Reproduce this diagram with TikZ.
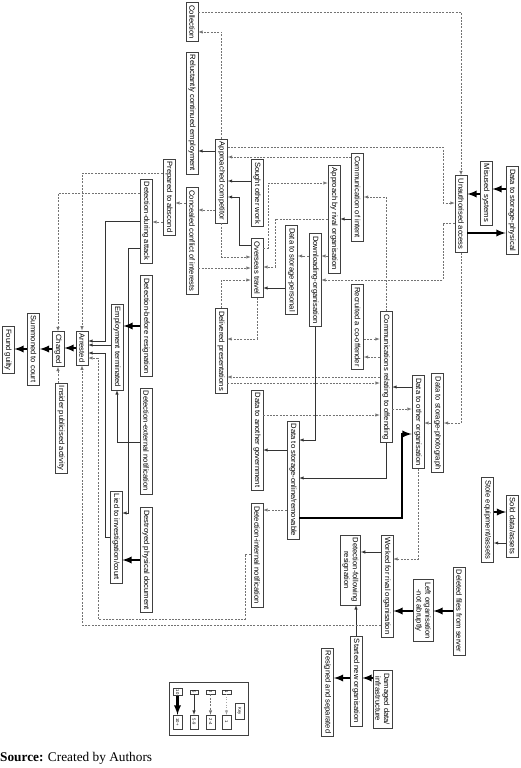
\documentclass[tikz,border=0pt]{standalone}
\usepackage{fontspec}
\setmainfont{Liberation Sans}
\newfontfamily\srcfont{Liberation Serif}
\usepackage{tikz}
\usetikzlibrary{positioning}

\tikzset{
  stagebox/.style={draw=black!75, line width=0.55pt, fill=white, rotate=-90,
    font=\fontsize{7.6}{8.6}\selectfont, align=center,
    inner xsep=2.8pt, inner ysep=2.2pt, minimum height=12pt},
  keycell/.style={draw=black!75, line width=0.4pt, fill=white, rotate=-90,
    font=\fontsize{4.2}{5}\selectfont, inner sep=1pt, minimum height=8.5pt},
  sol/.style={draw=black!80, line width=0.55pt, -latex},
  dsh/.style={draw=black!55, line width=0.55pt, dash pattern=on 2pt off 1.3pt, -latex},
  faint/.style={draw=black!35, line width=0.55pt, dotted, -latex},
  thk/.style={draw=black, line width=2.2pt, -latex},
}

\begin{document}
\begin{tikzpicture}[x=1pt, y=-1pt]
\useasboundingbox (0,0) rectangle (520,768);

% stages, left half
\node[stagebox] (collection) at (192,22) {Collection};
\node[stagebox] (reluct) at (192,113) {Reluctantly continued employment};
\node[stagebox] (appcomp) at (221.5,181) {Approached competitor};
\node[stagebox] (sought) at (257,193) {Sought other work};
\node[stagebox] (abscond) at (169,197) {Prepared to abscond};
\node[stagebox] (conceal) at (192,241) {Concealed conflict of interests};
\node[stagebox] (detduring) at (146,221) {Detection-during attack};
\node[stagebox] (detbefore) at (146,326) {Detection-before resignation};
\node[stagebox] (empterm) at (117,347) {Employment terminated};
\node[stagebox] (arrested) at (82,348) {Arrested};
\node[stagebox] (charged) at (58,349) {Charged};
\node[stagebox] (summoned) at (33.5,349) {Summoned to court};
\node[stagebox] (guilty) at (8,350) {Found guilty};
\node[stagebox] (insider) at (61,428) {Insider publicised activity};
\node[stagebox] (detext) at (146,441) {Detection-external notification};
\node[stagebox] (lied) at (116,537) {Lied to investigation/court};
\node[stagebox] (destroyed) at (146,560) {Destroyed physical document};
\node[stagebox] (overseas) at (257,268) {Overseas travel};
\node[stagebox] (delivered) at (221,351) {Delivered presentations};
\node[stagebox] (datagov) at (257,440) {Data to another government};
\node[stagebox] (detint) at (257,555) {Detection-internal notification};

% stages, right half
\node[stagebox] (commintent) at (357.5,197) {Communication of intent};
\node[stagebox] (rival) at (334,219) {Approach by rival organisation};
\node[stagebox] (storpers) at (291.5,270) {Data to storage-personal};
\node[stagebox] (download) at (315,280) {Downloading-organisation};
\node[stagebox] (recruited) at (357.5,327) {Recruited a co-offender};
\node[stagebox] (commoff) at (386,377) {Communications relating to offending};
\node[stagebox] (dataorg) at (418,422) {Data to other organisation};
\node[stagebox] (storphoto) at (437.5,423) {Data to storage-photograph};
\node[stagebox] (storonline) at (293,480) {Data to storage-online/removable};
\node[stagebox] (unauth) at (461,214) {Unauthorised access};
\node[stagebox] (misused) at (486,193) {Misused systems};
\node[stagebox] (storphys) at (512,210) {Data to storage-physical};
\node[stagebox] (stole) at (487.5,520) {Stole equipment/assets};
\node[stagebox] (sold) at (512.5,526) {Sold data/assets};
\node[stagebox] (workedrival) at (387,586) {Worked for rival organisation};
\node[stagebox] (detfollow) at (350.5,570) {Detection-following\\resignation};
\node[stagebox] (deleted) at (459,611) {Deleted files from server};
\node[stagebox] (leftorg) at (423,610.5) {Left organisation\\-not abruptly};
\node[stagebox] (startedorg) at (356,681) {Started new organisation};
\node[stagebox] (damaged) at (382.5,699) {Damaged data/\\infrastructure};
\node[stagebox] (resigned) at (327.5,692) {Resigned and separated};

% links
\draw[dsh] (collection.north |- 0,12) -| (unauth.west);
\draw[dsh] (appcomp.west) |- (collection.north |- 0,32);
\draw[sol] (appcomp.south |- 0,151) -- (reluct.north |- 0,151);
\draw[dsh] (appcomp.north |- 0,147) -- (443,147) -- (443,203) -- (unauth.south |- 0,203);
\draw[dsh] (commintent.south |- 0,157) -- (appcomp.north |- 0,157);
\draw[sol] (sought.south |- 0,181) -- (appcomp.north |- 0,181);
\draw[sol] (overseas.south |- 0,245) -- (239,245) -- (239,197) -- (appcomp.north |- 0,197);
\draw[dsh] (appcomp.south |- 0,210) -- (conceal.north |- 0,210);
\draw[dsh] (appcomp.east) |- (overseas.south |- 0,257);
\draw[dsh] (conceal.north |- 0,268) -- (overseas.south |- 0,268);
\draw[dsh] (delivered.west) |- (overseas.south |- 0,280);
\draw[dsh] (overseas.north |- 0,248) -- (268,248) -- (268,183) -- (rival.south |- 0,183);
\draw[dsh] (rival.south |- 0,219) -- (275,219) -- (275,267) -- (overseas.north |- 0,267);
\draw[sol] (commintent.south |- 0,219) -- (rival.north |- 0,219);
\draw[dsh] (rival.south |- 0,256) -- (download.north |- 0,256);
\draw[dsh] (download.south |- 0,256) -- (storpers.north |- 0,256);
\draw[sol] (storpers.south |- 0,288) -- (overseas.north |- 0,288);
\draw[dsh] (unauth.south |- 0,223) -- (443,223) -- (443,280) -- (download.north |- 0,280);
\draw[dsh] (commoff.west) |- (commintent.north |- 0,197);
\draw[dsh] (recruited.north |- 0,339) -- (commoff.south |- 0,339);
\draw[dsh] (commoff.south |- 0,357) -- (recruited.north |- 0,357);
\draw[dsh] (commoff.south |- 0,377) -- (delivered.north |- 0,377);
\draw[dsh] (delivered.north |- 0,383) -- (commoff.south |- 0,383);
\draw[dsh] (overseas.east) |- (delivered.north |- 0,339);
\draw[dsh] (datagov.north |- 0,415) -- (commoff.south |- 0,415);
\draw[sol] (dataorg.south |- 0,387) -- (commoff.north |- 0,387);
\draw[dsh] (commoff.north |- 0,409) -- (dataorg.south |- 0,409);
\draw[dsh] (storphoto.south |- 0,423) -- (dataorg.north |- 0,423);
\draw[dsh] (unauth.east) |- (storphoto.north |- 0,423);
\draw[sol] (download.east) |- (storonline.north |- 0,440);
\draw[sol] (storonline.south |- 0,450) -- (datagov.north |- 0,450);
\draw[sol] (commoff.east) |- (storonline.north |- 0,478);
\draw[thk] (storonline.north |- 0,518) -- (402,518) -- (402,434) -- (dataorg.south |- 0,434);
\draw[dsh] (storonline.south |- 0,510) -- (detint.north |- 0,510);
\draw[dsh] (dataorg.east) |- (workedrival.north |- 0,559);
\draw[sol] (workedrival.south |- 0,552) -- (detfollow.north |- 0,552);
\draw[thk] (leftorg.south |- 0,611) -- (workedrival.north |- 0,611);
\draw[thk] (deleted.south |- 0,611) -- (leftorg.north |- 0,611);
\draw[sol] (startedorg.west) -- (startedorg.west |- detfollow.east);
\draw[thk] (damaged.south |- 0,678) -- (startedorg.north |- 0,678);
\draw[thk] (startedorg.south |- 0,678) -- (resigned.north |- 0,678);
\draw[dsh] (workedrival.south |- 0,625) -| (arrested.east);
\draw[dsh] (detint.south |- 0,554) -- (245,554) -- (245,619) -- (98,619) -- (98,358) -- (arrested.north |- 0,358);
\draw[sol] (detduring.south |- 0,221) -- (105,221) -- (105,341) -- (arrested.north |- 0,341);
\draw[sol] (empterm.south |- 0,345) -- (arrested.north |- 0,345);
\draw[sol] (lied.south |- 0,537) -- (105,537) -- (105,353) -- (arrested.north |- 0,353);
\draw[sol] (detduring.south |- 0,248) -- (128,248) -- (128,513) -- (lied.north |- 0,513);
\draw[thk] (detbefore.south |- 0,326) -- (empterm.north |- 0,326);
\draw[sol] (detext.south |- 0,442) -| (empterm.east);
\draw[thk] (destroyed.south |- 0,560) -- (lied.north |- 0,560);
\draw[dsh] (abscond.south |- 0,173) -| (arrested.west);
\draw[dsh] (detduring.south |- 0,193) -| (charged.west);
\draw[dsh] (conceal.south |- 0,203) -- (abscond.north |- 0,203);
\draw[dsh] (abscond.south |- 0,222) -- (detduring.north |- 0,222);
\draw[dsh] (charged.east |- insider.west) -- (charged.east);
\draw[thk] (arrested.south) -- (arrested.south -| charged.north);
\draw[thk] (charged.south) -- (charged.south -| summoned.north);
\draw[thk] (summoned.south) -- (summoned.south -| guilty.north);
\draw[thk] (misused.south |- 0,194) -- (unauth.north |- 0,194);
\draw[thk] (storphys.south |- 0,189) -- (misused.north |- 0,189);
\draw[thk] (unauth.north |- 0,233) -- (storphys.south |- 0,233);
\draw[thk] (stole.north |- 0,512) -- (sold.south |- 0,512);
\draw[sol] (sold.south |- 0,543) -- (stole.north |- 0,543);

% key
\node[draw=black!75, line width=0.5pt, minimum width=79pt, minimum height=53pt] (keyframe) at (208.5,708.5) {};
\node[keycell, minimum width=16pt] (keylabel) at (239.5,711) {Key};
\foreach \x/\cnt/\rng/\ks in {177.5/10/10+/thk, 194/5/5-9/sol, 210.5/2/2-4/dsh, 226.5/1/1/faint} {
    \node[keycell] (hi\cnt) at (\x,692) {\cnt};
    \node[keycell, minimum width=14pt] (lo\cnt) at (\x,722) {\rng};
    \draw[\ks] (hi\cnt.east) -- (lo\cnt.west);
}

\node[anchor=west, inner sep=0pt, font=\srcfont\fontsize{13.3}{15}\selectfont] (source) at (0,758) {\textbf{Source:} Created by Authors};
\end{tikzpicture}
\end{document}
